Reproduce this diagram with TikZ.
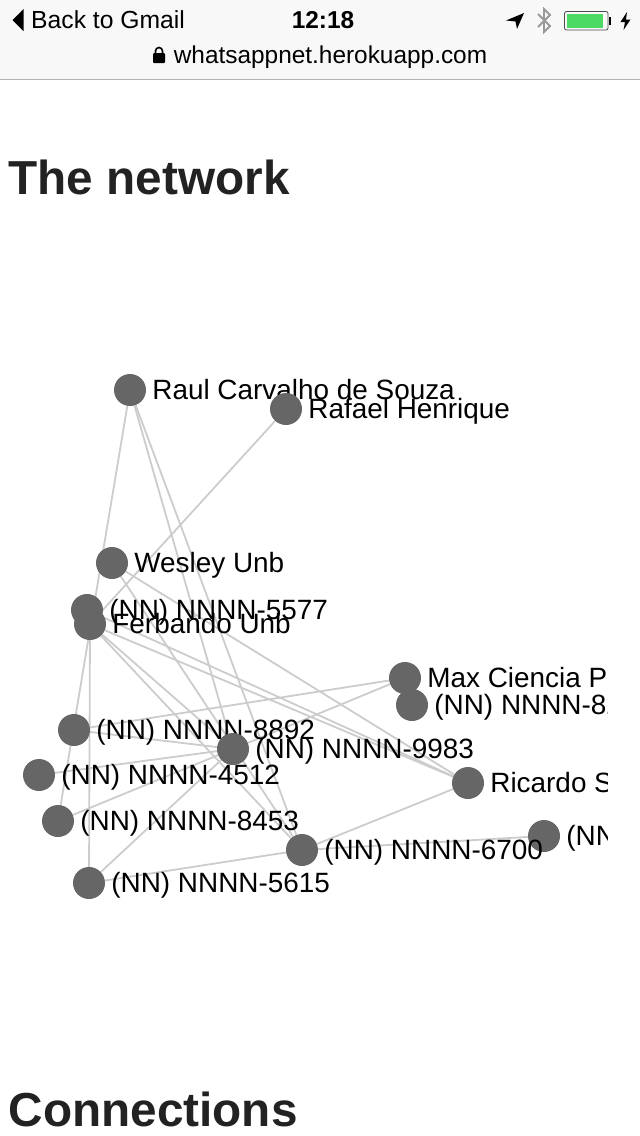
\documentclass[tikz,border=0pt]{standalone}
\usepackage{fontspec}
\setmainfont{Liberation Sans}
\usetikzlibrary{backgrounds}
\definecolor{nodegray}{HTML}{666666}
\definecolor{edgegray}{HTML}{CCCCCC}
\definecolor{headblack}{HTML}{222222}
\definecolor{barwhite}{HTML}{F8F8F8}
\definecolor{batgreen}{HTML}{4CD964}
\tikzset{
  netnode/.style={circle,fill=nodegray,minimum size=32pt,inner sep=0pt},
  netlabel/.style={inner sep=0pt,xshift=6pt,yshift=.8pt,text height=20.2pt,text depth=0pt,font=\fontsize{27.9}{28}\selectfont,text=black},
  netedge/.style={draw=edgegray,line width=1.8pt},
  heading/.style={anchor=base west,inner sep=0pt,text=headblack,font=\fontsize{47.7}{48}\selectfont\bfseries},
  bartext/.style={inner sep=0pt,anchor=base,text=black,font=\fontsize{24.4}{25}\selectfont}
}
\begin{document}
\begin{tikzpicture}[x=1pt,y=-1pt]
  \useasboundingbox (0,0) rectangle (640,1136);
  % browser bar
  \fill[barwhite] (0,0) rectangle (640,79);
  \draw[black!30,line width=1pt] (0,79.5) -- (640,79.5);
  \fill[black] (12.5,20) -- (23.5,9) -- (23.5,31) -- cycle;
  \node[bartext,anchor=base west,font=\fontsize{24.7}{25}\selectfont] (back) at (31,28.5) {Back to Gmail};
  \node[bartext,font=\fontsize{24.4}{25}\selectfont\bfseries] (clock) at (323,28.5) {12:18};
  \node[bartext] (url) at (330.5,63.5) {whatsappnet.herokuapp.com};
  \fill[black,rounded corners=1pt] (153,53) rectangle (165,63);
  \draw[black,line width=1.6pt] (155.5,53) -- (155.5,51) arc[start angle=180,end angle=360,radius=3.5] -- (162.5,53);
  \fill[black] (524,13) -- (517,29) -- (515.5,21.5) -- (506,20.5) -- cycle;
  \draw[black!40,line width=1.8pt] (538,14) -- (550,26) -- (544,32) -- (544,9) -- (550,15) -- (538,27);
  \draw[black!70,line width=.8pt,rounded corners=2pt] (564.5,11.5) rectangle (608,30);
  \fill[batgreen] (566.5,13.5) rectangle (603,28);
  \fill[black] (609,17) rectangle (611,25);
  \fill[black] (627,12) -- (620.5,22) -- (625,22) -- (623.5,30) -- (630.5,19.5) -- (626,19.5) -- cycle;
  % headings
  \node[heading] (title) at (8.5,194) {The network};
  \node[heading] (connections) at (8.5,1126) {Connections};
  % the network
  \begin{scope}
    \clip (0,300) rectangle (607,950);
    \node[netnode,label={[netlabel]right:Raul Carvalho de Souza}] (raul) at (130,390) {};
    \node[netnode,label={[netlabel]right:Rafael Henrique}] (rafael) at (286,409) {};
    \node[netnode,label={[netlabel]right:Wesley Unb}] (wesley) at (112,563) {};
    \node[netnode,label={[netlabel]right:(NN) NNNN-5577}] (n5577) at (87,610) {};
    \node[netnode,label={[netlabel]right:Ferbando Unb}] (ferbando) at (90,624) {};
    \node[netnode,label={[netlabel]right:Max Ciencia Pinto}] (max) at (405,678) {};
    \node[netnode,label={[netlabel]right:(NN) NNNN-8231}] (n8231) at (412,705) {};
    \node[netnode,label={[netlabel]right:(NN) NNNN-8892}] (n8892) at (74,730) {};
    \node[netnode,label={[netlabel]right:(NN) NNNN-9983}] (n9983) at (233,749) {};
    \node[netnode,label={[netlabel]right:(NN) NNNN-4512}] (n4512) at (39,775) {};
    \node[netnode,label={[netlabel]right:Ricardo Silva}] (ricardo) at (468,783) {};
    \node[netnode,label={[netlabel]right:(NN) NNNN-8453}] (n8453) at (58,821) {};
    \node[netnode,label={[netlabel]right:(NN) NNNN-1234}] (n1234) at (544,836) {};
    \node[netnode,label={[netlabel]right:(NN) NNNN-6700}] (n6700) at (302,850) {};
    \node[netnode,label={[netlabel]right:(NN) NNNN-5615}] (n5615) at (89,883) {};
    \begin{scope}[on background layer]
      \path[netedge]
      (raul) edge (n8453)
      (raul) edge (n9983)
      (raul) edge (n6700)
      (rafael) edge (ferbando)
      (wesley) edge (ricardo)
      (wesley) edge (n6700)
      (n5577) edge (ricardo)
      (ferbando) edge (ricardo)
      (ferbando) edge (n9983)
      (ferbando) edge (n6700)
      (ferbando) edge (n5615)
      (n8892) edge (max)
      (n8892) edge (n9983)
      (n4512) edge (n9983)
      (n8453) edge (n9983)
      (n5615) edge (n9983)
      (n9983) edge (max)
      (n5615) edge (n6700)
      (n6700) edge (ricardo)
      (n6700) edge (n1234);
    \end{scope}
  \end{scope}
\end{tikzpicture}
\end{document}
